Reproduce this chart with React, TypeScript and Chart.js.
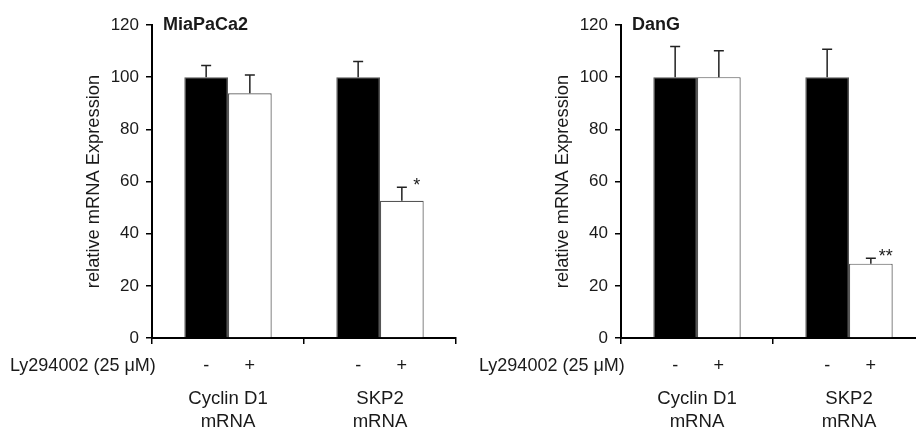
import React, { useEffect, useRef } from "react";
import { Chart, registerables } from "chart.js";

Chart.register(...registerables);

// ---- data ----
const categories = [["Cyclin D1", "mRNA"], ["SKP2", "mRNA"]];
const treatmentLabels = ["-", "+"];
const treatmentTitle = "Ly294002 (25 \u03bcM)";
const yTicks = [0, 20, 40, 60, 80, 100, 120];
const yTitle = "relative mRNA Expression";

const miaTitle = "MiaPaCa2";
const miaControl = [100, 100];
const miaControlErr = [4.5, 6];
const miaTreated = [93.8, 52.6];
const miaTreatedErr = [7.0, 5.2];
const miaTreatedSig = ["", "*"];

const danTitle = "DanG";
const danControl = [100, 100];
const danControlErr = [11.8, 10.7];
const danTreated = [100, 28.5];
const danTreatedErr = [10.1, 2.1];
const danTreatedSig = ["", "**"];

const FONT = "'Liberation Sans', Arial, Helvetica, sans-serif";
const TEXT = "#1a1a1a";

const annotPlugin = {
  id: "annot",
  afterDatasetsDraw(chart: any) {
    const ctx = chart.ctx;
    const yS = chart.scales.y;
    chart.data.datasets.forEach((ds: any, di: number) => {
      const meta = chart.getDatasetMeta(di);
      meta.data.forEach((bar: any, i: number) => {
        const v = ds.data[i];
        const e = ds.errors[i];
        const top = yS.getPixelForValue(v + e);
        ctx.save();
        ctx.strokeStyle = "#222";
        ctx.lineWidth = 1.5;
        ctx.beginPath();
        ctx.moveTo(bar.x, bar.y);
        ctx.lineTo(bar.x, top);
        ctx.moveTo(bar.x - 5, top);
        ctx.lineTo(bar.x + 5, top);
        ctx.stroke();
        const s = ds.sig[i];
        if (s) {
          ctx.fillStyle = TEXT;
          ctx.font = `18px ${FONT}`;
          ctx.textAlign = "center";
          ctx.textBaseline = "alphabetic";
          ctx.fillText(s, bar.x + 15, top + 4);
        }
        ctx.restore();
      });
    });
  },
  afterDraw(chart: any, _args: any, opts: any) {
    const ctx = chart.ctx;
    const area = chart.chartArea;
    ctx.save();
    ctx.fillStyle = TEXT;
    // treatment row
    ctx.font = `18px ${FONT}`;
    ctx.textBaseline = "middle";
    ctx.textAlign = "left";
    ctx.fillText(treatmentTitle, 10, 366);
    ctx.textAlign = "center";
    chart.data.datasets.forEach((ds: any, di: number) => {
      const meta = chart.getDatasetMeta(di);
      meta.data.forEach((bar: any) => {
        ctx.fillText(ds.label, bar.x, 366);
      });
    });
    // panel title
    ctx.font = `bold 18px ${FONT}`;
    ctx.textAlign = "left";
    ctx.textBaseline = "alphabetic";
    ctx.fillText(opts.title, area.left + 11, 30);
    ctx.restore();
  },
};

function makeConfig(
  title: string,
  control: number[],
  controlErr: number[],
  treated: number[],
  treatedErr: number[],
  treatedSig: string[]
): any {
  const tickFont = { family: FONT, size: 17 };
  const labelFont = { family: FONT, size: 18.6, lineHeight: 1.2 };
  const yTitleFont = { family: FONT, size: 18.3, lineHeight: 1.2 };
  return {
    type: "bar",
    data: {
      labels: categories,
      datasets: [
        {
          label: treatmentLabels[0],
          data: control,
          errors: controlErr,
          sig: ["", ""],
          backgroundColor: "#000",
          borderColor: "#555",
          borderWidth: 1.2,
          barPercentage: 1,
          categoryPercentage: 0.575,
        },
        {
          label: treatmentLabels[1],
          data: treated,
          errors: treatedErr,
          sig: treatedSig,
          backgroundColor: "#fff",
          borderColor: "#555",
          borderWidth: 1.2,
          barPercentage: 1,
          categoryPercentage: 0.575,
        },
      ],
    },
    options: {
      animation: false,
      responsive: false,
      maintainAspectRatio: false,
      layout: { padding: { left: 83, top: 25, right: 2, bottom: 0 } },
      plugins: {
        legend: { display: false },
        tooltip: { enabled: false },
        annot: { title },
      },
      scales: {
        x: {
          type: "category",
          offset: true,
          z: 1,
          grid: {
            offset: true,
            drawOnChartArea: false,
            drawTicks: true,
            tickLength: 6,
            color: "#000",
            lineWidth: 1.5,
          },
          border: { display: true, color: "#000", width: 2 },
          ticks: {
            padding: 44,
            font: labelFont,
            color: TEXT,
            maxRotation: 0,
            autoSkip: false,
          },
          afterFit: (s: any) => {
            s.height = 90;
          },
        },
        y: {
          min: 0,
          max: 120,
          z: 1,
          afterBuildTicks: (s: any) => {
            s.ticks = yTicks.map((v) => ({ value: v }));
          },
          ticks: { padding: 7, font: tickFont, color: TEXT },
          grid: {
            drawOnChartArea: false,
            drawTicks: true,
            tickLength: 6,
            color: "#000",
            lineWidth: 1.5,
          },
          border: { display: true, color: "#000", width: 2 },
          title: {
            display: true,
            text: yTitle,
            font: yTitleFont,
            color: TEXT,
            padding: 0,
          },
          afterFit: (s: any) => {
            s.width = 69;
          },
        },
      },
    },
    plugins: [annotPlugin],
  };
}

export default function App() {
  const leftRef = useRef<HTMLCanvasElement>(null);
  const rightRef = useRef<HTMLCanvasElement>(null);

  useEffect(() => {
    const c1 = new Chart(
      leftRef.current as HTMLCanvasElement,
      makeConfig(miaTitle, miaControl, miaControlErr, miaTreated, miaTreatedErr, miaTreatedSig)
    );
    const c2 = new Chart(
      rightRef.current as HTMLCanvasElement,
      makeConfig(danTitle, danControl, danControlErr, danTreated, danTreatedErr, danTreatedSig)
    );
    return () => {
      c1.destroy();
      c2.destroy();
    };
  }, []);

  return (
    <div
      style={{
        position: "fixed",
        left: 0,
        top: 0,
        width: 916,
        height: 428,
        overflow: "hidden",
        background: "#fff",
      }}
    >
      <canvas
        ref={leftRef}
        width={458}
        height={428}
        style={{ position: "absolute", left: 0, top: 0, width: 458, height: 428 }}
      />
      <canvas
        ref={rightRef}
        width={458}
        height={428}
        style={{ position: "absolute", left: 469, top: 0, width: 458, height: 428 }}
      />
    </div>
  );
}
